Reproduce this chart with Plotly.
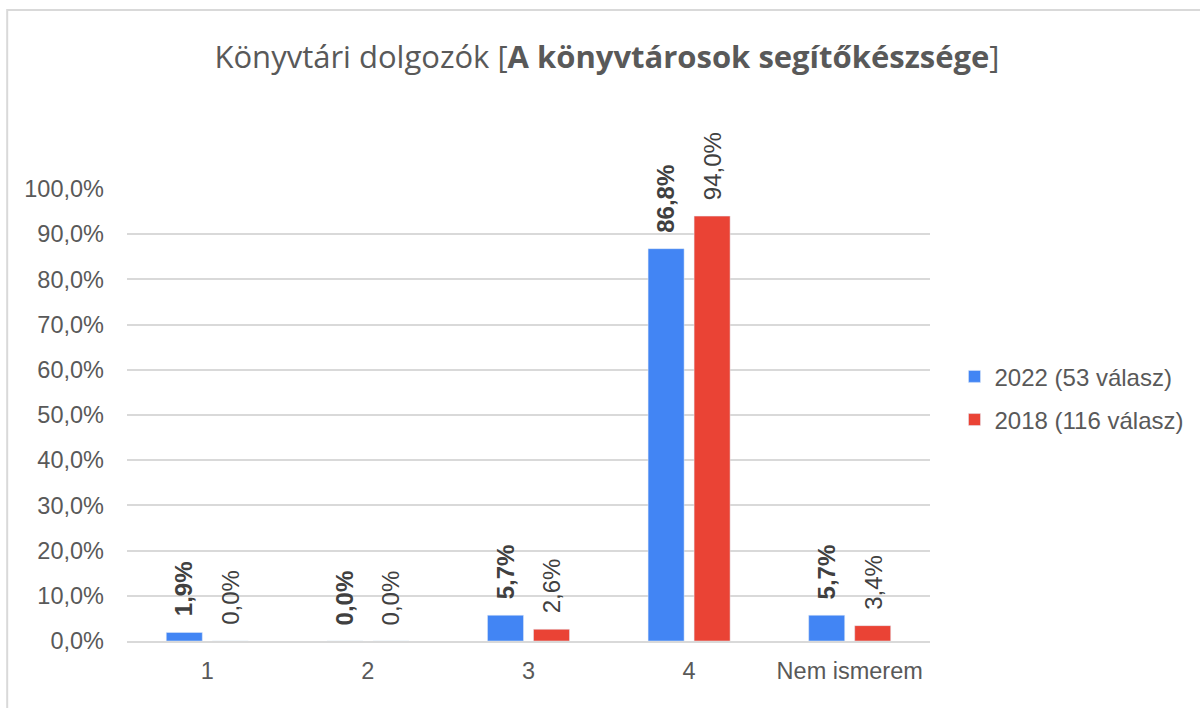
import plotly.graph_objects as go

# Survey answer categories and shares (%) for each year
categories = ["1", "2", "3", "4", "Nem ismerem"]
values_2022 = [1.9, 0.0, 5.7, 86.8, 5.7]
values_2018 = [0.0, 0.0, 2.6, 94.0, 3.4]
series_names = ["2022 (53 válasz)", "2018 (116 válasz)"]
y_ticks = [0, 10, 20, 30, 40, 50, 60, 70, 80, 90, 100]
y_tick_labels = ["0,0%", "10,0%", "20,0%", "30,0%", "40,0%", "50,0%",
                 "60,0%", "70,0%", "80,0%", "90,0%", "100,0%"]

BLUE = "#4285F4"
RED = "#EA4335"
TEXT = "#595959"
LABEL = "#404040"
GRID = "#D9D9D9"
FONT = "Liberation Sans, Arial"


def pct(v):
    return f"{v:.1f}".replace(".", ",") + "%"


fig = go.Figure()
fig.add_trace(go.Bar(name=series_names[0], x=categories, y=values_2022,
                     marker=dict(color=BLUE), legendgroup="a"))
fig.add_trace(go.Bar(name=series_names[1], x=categories, y=values_2018,
                     marker=dict(color=RED), legendgroup="b"))

# Vertical value labels above each bar (bold for 2022, regular for 2018)
slot = 23  # half of one bar slot in pixels
for i, (v22, v18) in enumerate(zip(values_2022, values_2018)):
    for v, shift, bold in ((v22, -slot, True), (v18, slot, False)):
        label = pct(v)
        fig.add_annotation(
            x=i, y=v, xref="x", yref="y",
            text=f"<b>{label}</b>" if bold else label,
            textangle=-90, showarrow=False,
            xanchor="center", yanchor="bottom",
            xshift=shift, yshift=14,
            font=dict(family=FONT, size=24, color=LABEL),
        )

fig.update_layout(
    width=1200, height=708,
    margin=dict(l=127, r=270, t=189, b=67),
    paper_bgcolor="white", plot_bgcolor="white",
    barmode="group", bargap=0.427, bargroupgap=0.217,
    font=dict(family=FONT, size=24, color=TEXT),
    title=dict(
        text="Könyvtári dolgozók [<b>A könyvtárosok segítőkészsége</b>]",
        x=607 / 1200, xanchor="center", xref="container",
        y=1 - 57 / 708, yref="container", yanchor="middle",
        font=dict(family="Open Sans, Noto Sans", size=31, color=TEXT),
    ),
    legend=dict(
        x=1.0305, xanchor="left", y=0.537, yanchor="middle",
        font=dict(family=FONT, size=24, color=TEXT),
        itemwidth=30, traceorder="grouped", tracegroupgap=9,
    ),
    showlegend=True,
)
fig.update_yaxes(
    range=[0, 100], tickvals=y_ticks, ticktext=y_tick_labels,
    showgrid=True, gridcolor=GRID, gridwidth=1.5, zeroline=False,
    showline=False, ticks="", ticklabelstandoff=22,
    tickfont=dict(family=FONT, size=23.5, color=TEXT),
)
fig.update_xaxes(
    type="category",
    showline=True, linecolor=GRID, linewidth=1.5, ticks="",
    tickfont=dict(family=FONT, size=23.5, color=TEXT), ticklabelstandoff=8,
)

# Outer chart frame
fig.add_shape(type="rect", xref="paper", yref="paper",
              x0=-0.1492, x1=1.5, y0=-0.2, y1=1.396,
              line=dict(color=GRID, width=2), fillcolor="rgba(0,0,0,0)",
              layer="below")

fig.write_html("out.html")
